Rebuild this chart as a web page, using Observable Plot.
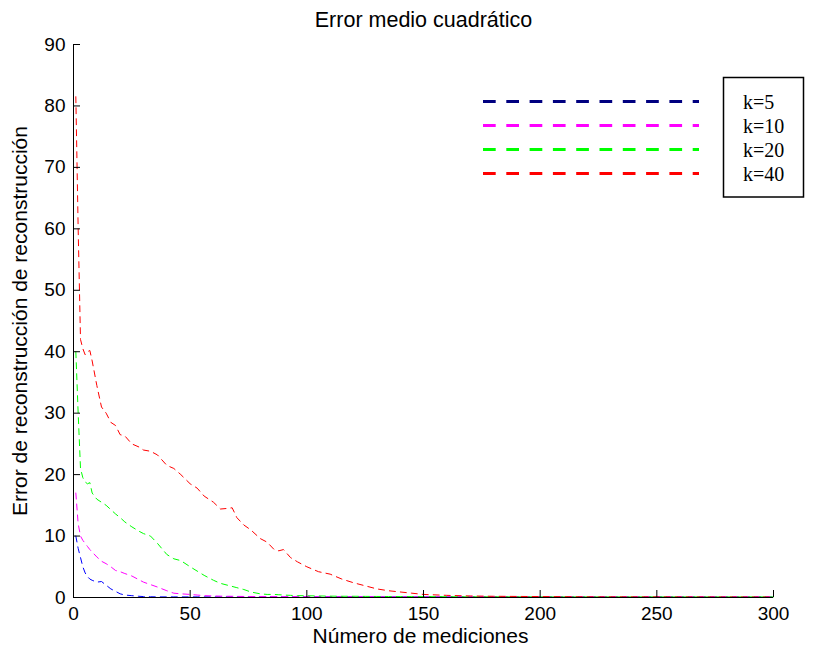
<!DOCTYPE html>
<html>
<head>
<meta charset="utf-8">
<script src="https://cdn.jsdelivr.net/npm/d3@7"></script>
<script src="https://cdn.jsdelivr.net/npm/@observablehq/plot@0.6"></script>
<style>
  html, body { margin: 0; padding: 0; background: #fff; }
  #wrap { position: relative; width: 816px; height: 652px; }
  #legend { position: absolute; left: 0; top: 0; pointer-events: none; }
</style>
</head>
<body>
<div id="wrap"></div>
<script>
// ---- data ----
const mediciones = [1,2,3,4,5,6,7,8,10,12,14,16,18,20,22,25,28,30,33,36,40,43,46,50,53,56,60,63,66,68,70,73,76,80,83,86,88,90,93,96,100,105,110,115,120,125,130,135,140,145,150,160,170,180,200,225,250,275,300];

const errK5 = [10,8,6.5,5,4,3.4,3,2.8, 2.5,2.6,2,1.4,1,0.6,0.4, 0.3,0.2,0.15,0.12,0.1,
  0.1,0.1,0.1, 0.1,0.1,0.1, 0.1,0.1,0.1,0.1, 0.1,0.1,0.1, 0.1,0.1,0.1,0.1, 0.1,0.1,0.1,
  0.1,0.1,0.1,0.1,0.1,0.1,0.1,0.1,0.1,0.1, 0.1,0.1,0.1,0.1, 0.1,0.1,0.1,0.1,0.1];

const errK10 = [17,12,10,9.3,8.8,8.3,7.8,7.4, 6.6,5.9,5.5,5,4.4,4.2,3.9, 3.5,2.9,2.5,2.1,1.7,
  1.1,0.7,0.6, 0.5,0.4,0.3, 0.25,0.22,0.2,0.2, 0.18,0.17,0.16, 0.15,0.15,0.15,0.15, 0.15,0.15,0.15,
  0.14,0.14,0.13,0.13,0.12,0.12,0.12,0.11,0.11,0.11, 0.1,0.1,0.1,0.1, 0.1,0.1,0.1,0.1,0.1];

const errK20 = [40,30,21,19.5,18.8,18.5,18.7,17, 16,15.5,15,14.3,13.6,13,12.3, 11.5,10.8,10.4,10,8.8,
  7,6.3,6, 5,4.3,3.6, 2.8,2.3,2,1.8, 1.6,1.3,0.9, 0.6,0.5,0.5,0.45, 0.4,0.35,0.3,
  0.28,0.25,0.22,0.2,0.2,0.18,0.17,0.16,0.15,0.15, 0.14,0.13,0.12,0.12, 0.1,0.1,0.1,0.1,0.1];

const errK40 = [81.5,60,42,40.5,39.5,40,40.2,38.5, 34.5,31,30,28.5,28,26.5,26.3, 25,24.5,24,23.8,23.2,
  21.5,21,20, 18.5,17.8,16.5, 15.5,14.4,14.5,14.6, 13,11.8,11, 9.6,9,7.8,7.6, 7.8,6.5,5.8,
  5,4.2,3.8,3,2.4,1.9,1.4,1.1,0.9,0.7, 0.5,0.35,0.25,0.2, 0.15,0.1,0.1,0.08,0.08];

const seriesNames = ["k=5", "k=10", "k=20", "k=40"];
const seriesValues = [errK5, errK10, errK20, errK40];
const curveColors = ["#0000ff", "#ff00ff", "#00ff00", "#ff0000"];
const legendColors = ["#000080", "#ff00ff", "#00ff00", "#ff0000"];

const xTicks = [0, 50, 100, 150, 200, 250, 300];
const yTicks = [0, 10, 20, 30, 40, 50, 60, 70, 80, 90];

const titleText = "Error medio cuadrático";
const xLabel = "Número de mediciones";
const yLabel = "Error de reconstrucción de reconstrucción";

// ---- tidy table ----
const rows = seriesNames.flatMap((name, i) =>
  mediciones.map((m, j) => ({serie: name, x: m, y: seriesValues[i][j]}))
);

const sans = "'Liberation Sans', Arial, Helvetica, sans-serif";

const chart = Plot.plot({
  width: 816,
  height: 652,
  marginLeft: 73,
  marginRight: 43,
  marginTop: 44,
  marginBottom: 55,
  style: {fontFamily: sans, fontSize: "19px", background: "#fff", color: "#000", overflow: "visible"},
  x: {domain: [0, 300], ticks: xTicks, label: null},
  y: {domain: [0, 90], ticks: yTicks, label: null},
  color: {domain: seriesNames, range: curveColors},
  marks: [
    Plot.line(rows, {x: "x", y: "y", z: "serie", stroke: "serie", strokeWidth: 1, strokeDasharray: "6,5"}),
    Plot.ruleX([0], {stroke: "#000", strokeWidth: 1}),
    Plot.ruleY([0], {stroke: "#000", strokeWidth: 1}),
    Plot.axisX({ticks: xTicks, tickSize: -7, text: null, stroke: "#000"}),
    Plot.axisX({ticks: xTicks, tickSize: 0, tickPadding: 9, fontSize: 19, fill: "#000"}),
    Plot.axisY({ticks: yTicks, tickSize: -7, text: null, stroke: "#000"}),
    Plot.axisY({ticks: yTicks, tickSize: 0, tickPadding: 8, fontSize: 19, fill: "#000"}),
    Plot.text([titleText], {frameAnchor: "top", dy: -24, fontSize: 21.5, fill: "#000", lineAnchor: "middle", textAnchor: "middle"}),
    Plot.text([xLabel], {frameAnchor: "bottom", dx: -3, dy: 39, fontSize: 21, fill: "#000", lineAnchor: "middle", textAnchor: "middle"}),
    Plot.text([yLabel], {frameAnchor: "left", dx: -53, rotate: -90, fontSize: 21, fill: "#000", lineAnchor: "middle", textAnchor: "middle"})
  ]
});

const wrap = document.getElementById("wrap");
wrap.appendChild(chart);

// ---- legend overlay (separate legend lines + boxed labels, as in the reference) ----
const leg = d3.select(wrap).append("svg")
  .attr("id", "legend")
  .attr("width", 816)
  .attr("height", 652);

const legTop = 101.5, legStep = 24;
leg.selectAll("line.k")
  .data(seriesNames)
  .join("line")
  .attr("class", "k")
  .attr("x1", 483).attr("x2", 699)
  .attr("y1", (d, i) => legTop + i * legStep)
  .attr("y2", (d, i) => legTop + i * legStep)
  .attr("stroke", (d, i) => legendColors[i])
  .attr("stroke-width", 3)
  .attr("stroke-dasharray", "12.7,10.6");

leg.append("rect")
  .attr("x", 723.5).attr("y", 77.5)
  .attr("width", 80).attr("height", 119.5)
  .attr("fill", "none").attr("stroke", "#000").attr("stroke-width", 1.5);

leg.selectAll("text.k")
  .data(seriesNames)
  .join("text")
  .attr("class", "k")
  .attr("x", 743)
  .attr("y", (d, i) => legTop + i * legStep + 7)
  .attr("font-family", "'Liberation Serif', 'Times New Roman', serif")
  .attr("font-size", 20)
  .attr("fill", "#000")
  .text(d => d);
</script>
</body>
</html>
